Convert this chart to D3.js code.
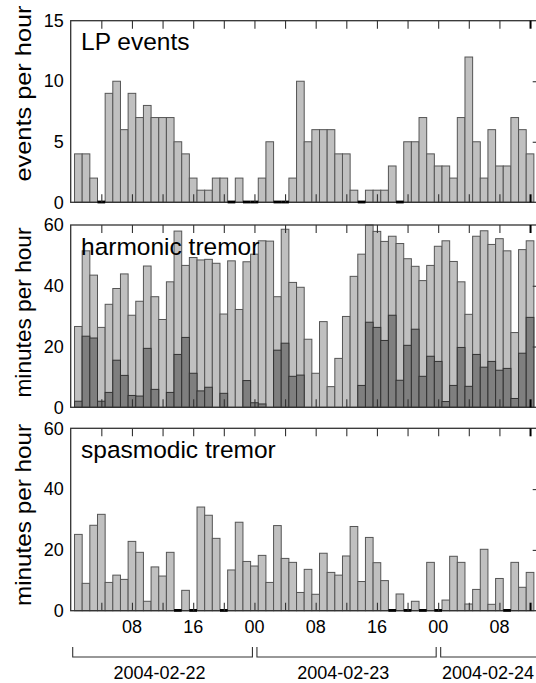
<!DOCTYPE html>
<html>
<head>
<meta charset="utf-8">
<script src="https://cdn.jsdelivr.net/npm/d3@7"></script>
<style>
  html, body { margin: 0; padding: 0; background: #fff; }
  svg { display: block; }
  text { font-family: "Liberation Sans", Arial, Helvetica, sans-serif; fill: #000; }
</style>
</head>
<body>
<svg id="chart" width="536" height="683"></svg>
<script>
// Hourly bins, counted in hours after 2004-02-22 00:00; bin i is centred on hour firstHour + i
const firstHour = 1;

// LP events per hour
const lpEvents = [4, 4, 2, 0, 9, 10, 6, 9, 7, 8, 7, 7, 7, 5, 4, 2, 1, 1, 2, 2,
                  0, 2, 0, 0, 2, 5, 0, 0, 2, 10, 5, 6, 6, 6, 4, 4, 1, 0, 1, 1,
                  1, 3, 0, 5, 5, 7, 4, 3, 3, 2, 7, 12, 5, 2, 6, 3, 3, 7, 6, 4];

// Harmonic tremor, minutes per hour (all harmonic tremor)
const harmonicTotal = [26.6, 51.5, 43.5, 26.3, 33.9, 39.1, 43.9, 30.3, 34.9, 46.5,
                       36.4, 28.9, 41.3, 58, 46.7, 49.3, 48.5, 48.7, 47.4, 30.7,
                       48.2, 32.2, 47.9, 50.4, 54.8, 54.7, 36.4, 58.6, 41.1, 39.5,
                       22.4, 11.2, 28.2, 6.8, 16.1, 29.9, 43.1, 50.4, 60, 57.9,
                       54.6, 56.3, 53.9, 48.9, 46.4, 41.7, 46.7, 53, 54.8, 48,
                       41.3, 30.6, 56.3, 58.1, 53.6, 55.5, 51.5, 24.6, 51.9, 54.8];

// Harmonic tremor, minutes per hour (darker subset)
const harmonicStrong = [2, 23.4, 22.8, 2, 4.9, 15.5, 10.5, 3.9, 3.7, 19.4,
                        5.9, 0, 4.9, 17.4, 23, 11.2, 5.4, 6.6, 0, 4.6,
                        0, 0, 8.8, 1.5, 1.1, 0, 18.8, 21.1, 10.2, 10.6,
                        0, 0, 0, 0, 0, 0, 0, 7.2, 28, 26.3,
                        22, 30.3, 8.9, 20.4, 25.7, 10.2, 16.8, 15.1, 1.9, 7.2,
                        19.7, 6.9, 17.4, 13.2, 15.1, 12.2, 12.8, 2.9, 17.8, 29.6];

// Spasmodic tremor, minutes per hour
const spasmodic = [25.1, 9, 28.1, 31.7, 9.3, 11.7, 10.3, 22.8, 19.2, 3.1,
                   14.4, 11.4, 19.2, 0, 6.7, 0, 34.1, 31.4, 23.8, 0,
                   13.4, 29.1, 16.2, 14.7, 18.2, 9.3, 28, 17.2, 15.9, 6,
                   13.6, 5.4, 18.9, 12.6, 11.7, 18, 27.7, 9.6, 24.1, 15.8,
                   9.9, 0, 5.5, 0, 3.1, 0, 15.9, 0, 3.5, 17.9,
                   15.9, 2.2, 7, 20.2, 2.1, 10.6, 0, 15.9, 7.7, 12.6];

// Time axis
const hourTicks = [4, 8, 12, 16, 20, 24, 28, 32, 36, 40, 44, 48, 52, 56, 60];
const labelHours = [8, 16, 24, 32, 40, 48, 56];
const labelTexts = ["08", "16", "00", "08", "16", "00", "08"];
const dayNames = ["2004-02-22", "2004-02-23", "2004-02-24"];
const dayStarts = [0, 24, 48];

// Value axes
const lpTicks = [0, 5, 10, 15];
const minuteTicks = [0, 20, 40, 60];

const svg = d3.select("#chart");
const x = d3.scaleLinear().domain([0, 61]).range([70.7, 537.7]);

const panels = [
  { title: "LP events", titleY: 50, yLabel: "events per hour", yLabelMid: 93.5, yLabelLen: 176,
    domain: [0, 15], ticks: lpTicks, top: 20.7, bottom: 202.3,
    layers: [{ values: lpEvents, fill: "#c0c0c0", stroke: "#555" }] },
  { title: "harmonic tremor", titleY: 255, yLabel: "minutes per hour", yLabelMid: 312.5, yLabelLen: 170,
    domain: [0, 60], ticks: minuteTicks, top: 225, bottom: 407.3,
    layers: [{ values: harmonicTotal, fill: "#c0c0c0", stroke: "#555" },
             { values: harmonicStrong, fill: "#7f7f7f", stroke: "#333" }] },
  { title: "spasmodic tremor", titleY: 457.5, yLabel: "minutes per hour", yLabelMid: 515, yLabelLen: 182,
    domain: [0, 60], ticks: minuteTicks, top: 428.3, bottom: 610.7,
    layers: [{ values: spasmodic, fill: "#c0c0c0", stroke: "#555" }] }
];

const [x0, x1] = x.range();

panels.forEach((p, pi) => {
  const y = d3.scaleLinear().domain(p.domain).range([p.bottom, p.top]);
  const g = svg.append("g");

  // bars
  p.layers.forEach(layer => {
    const data = layer.values.map((v, i) => ({ h: firstHour + i, v }));
    g.append("g").selectAll("rect")
      .data(data.filter(d => d.v > 0))
      .join("rect")
      .attr("x", d => x(d.h - 0.5))
      .attr("width", d => x(d.h + 0.5) - x(d.h - 0.5))
      .attr("y", d => y(d.v))
      .attr("height", d => y(0) - y(d.v))
      .attr("fill", layer.fill)
      .attr("stroke", layer.stroke)
      .attr("stroke-width", 1);
  });

  // frame
  g.append("rect")
    .attr("x", x0).attr("y", p.top)
    .attr("width", x1 - x0).attr("height", p.bottom - p.top)
    .attr("fill", "none").attr("stroke", "#333").attr("stroke-width", 1.3);

  // hours with no activity are marked on the baseline
  const zeroLayer = p.layers[0];
  g.append("g").selectAll("line")
    .data(zeroLayer.values.map((v, i) => ({ h: firstHour + i, v })).filter(d => d.v === 0))
    .join("line")
    .attr("x1", d => x(d.h - 0.5))
    .attr("x2", d => x(d.h + 0.5))
    .attr("y1", y(0) - 0.3)
    .attr("y2", y(0) - 0.3)
    .attr("stroke", "#000")
    .attr("stroke-width", 2.8);

  // inward time ticks, top and bottom
  const bottomAxis = d3.axisBottom(x).tickValues(hourTicks).tickSize(-8).tickFormat("");
  const topAxis = d3.axisTop(x).tickValues(hourTicks).tickSize(-8).tickFormat("");
  [[bottomAxis, p.bottom], [topAxis, p.top]].forEach(([ax, ty]) => {
    const a = g.append("g").attr("transform", `translate(0,${ty})`).call(ax);
    a.select(".domain").remove();
    a.selectAll(".tick line")
      .attr("stroke", d => d === 60 ? "#000" : "#333")
      .attr("stroke-width", d => d === 60 ? 2 : 1.1);
  });

  // inward value ticks on the right edge
  const rightAxis = d3.axisLeft(y).tickValues(p.ticks.slice(1, -1)).tickSize(5).tickFormat("");
  const ra = g.append("g").attr("transform", `translate(${x1},0)`).call(rightAxis);
  ra.select(".domain").remove();
  ra.selectAll(".tick line").attr("stroke", "#333").attr("stroke-width", 1.1);

  // value labels on the left
  const leftAxis = d3.axisLeft(y).tickValues(p.ticks).tickSize(0).tickPadding(7);
  const la = g.append("g").attr("transform", `translate(${x0},0)`).call(leftAxis);
  la.select(".domain").remove();
  la.selectAll(".tick text")
    .attr("font-family", "Liberation Sans, Arial, sans-serif")
    .attr("font-size", 18).attr("fill", "#000");

  // panel title
  g.append("text")
    .attr("x", 81).attr("y", p.titleY)
    .attr("font-size", 24.5)
    .text(p.title);

  // axis title
  g.append("text")
    .attr("transform", `translate(31,${p.yLabelMid}) rotate(-90)`)
    .attr("text-anchor", "middle")
    .attr("font-size", 22)
    .attr("textLength", p.yLabelLen)
    .attr("lengthAdjust", "spacingAndGlyphs")
    .text(p.yLabel);

  // hour labels under the last panel
  if (pi === panels.length - 1) {
    g.append("g").selectAll("text")
      .data(labelHours)
      .join("text")
      .attr("x", d => x(d))
      .attr("y", 633)
      .attr("text-anchor", "middle")
      .attr("font-size", 18)
      .text((d, i) => labelTexts[i]);
  }
});

// day brackets and dates
const bracketTop = 647, bracketBottom = 657;
dayNames.forEach((name, i) => {
  const a = x(dayStarts[i]) + (i === 0 ? 2 : 2.5);
  const b = x(dayStarts[i] + 24) - 2;
  svg.append("path")
    .attr("d", `M${a},${bracketTop}V${bracketBottom}H${b}V${bracketTop}`)
    .attr("fill", "none").attr("stroke", "#333").attr("stroke-width", 1.1);
  const t = svg.append("text")
    .attr("y", 679)
    .attr("font-size", 18)
    .text(name);
  const w = t.node().getComputedTextLength();
  const mid = x(dayStarts[i] + 12) - 3;
  const left = Math.min(mid - w / 2, 534 - w);
  t.attr("x", left);
});
</script>
</body>
</html>
